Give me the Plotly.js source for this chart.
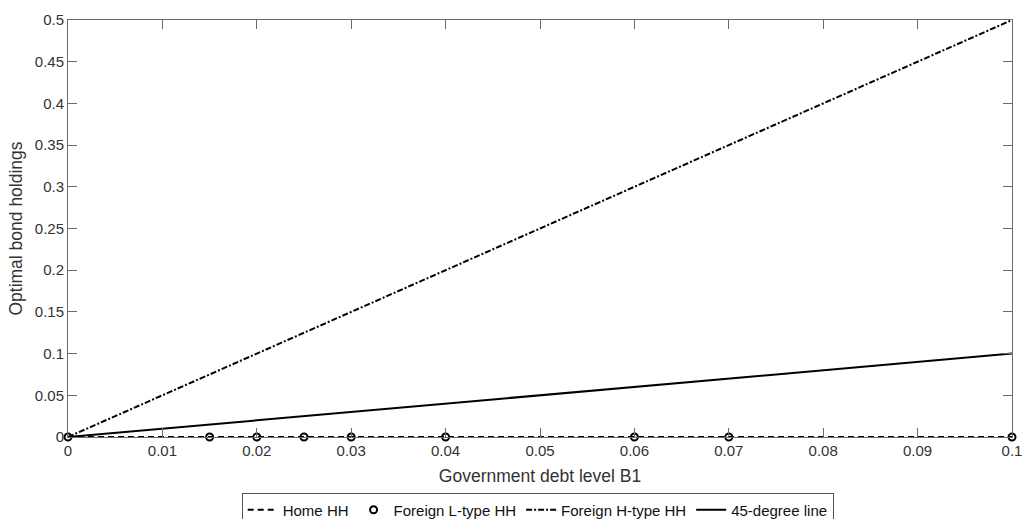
<!DOCTYPE html>
<html>
<head>
<meta charset="utf-8">
<script src="https://cdn.plot.ly/plotly-3.0.1.min.js"></script>
<style>html,body{margin:0;padding:0;background:#fff;}#chart{width:1023px;height:519px;}</style>
</head>
<body>
<div id="chart"></div>
<script>
const debtLevels = [0, 0.015, 0.02, 0.025, 0.03, 0.04, 0.06, 0.07, 0.1];
const homeHH = [0, 0, 0, 0, 0, 0, 0, 0, 0];
const foreignL = [0, 0, 0, 0, 0, 0, 0, 0, 0];
const foreignH = [0, 0.075, 0.1, 0.125, 0.15, 0.2, 0.3, 0.35, 0.5];
const line45 = [0, 0.015, 0.02, 0.025, 0.03, 0.04, 0.06, 0.07, 0.1];
const xTicks = [0, 0.01, 0.02, 0.03, 0.04, 0.05, 0.06, 0.07, 0.08, 0.09, 0.1];
const xTickText = ['0','0.01','0.02','0.03','0.04','0.05','0.06','0.07','0.08','0.09','0.1'];
const yTicks = [0, 0.05, 0.1, 0.15, 0.2, 0.25, 0.3, 0.35, 0.4, 0.45, 0.5];
const yTickText = ['0','0.05','0.1','0.15','0.2','0.25','0.3','0.35','0.4','0.45','0.5'];

const traces = [
  {x: debtLevels, y: homeHH, name: 'Home HH', mode: 'lines', cliponaxis: false, line: {color: '#000', width: 2, dash: '6px,4px'}},
  {x: debtLevels, y: foreignL, name: 'Foreign L-type HH', mode: 'markers', cliponaxis: false, marker: {symbol: 'circle-open', size: 7, color: '#000', line: {width: 2, color: '#000'}}},
  {x: debtLevels, y: foreignH, name: 'Foreign H-type HH', mode: 'lines', cliponaxis: false, line: {color: '#000', width: 2, dash: '6px,2px,2px,2px'}},
  {x: debtLevels, y: line45, name: '45-degree line', mode: 'lines', cliponaxis: false, line: {color: '#000', width: 2}}
];

const FONT = 'Liberation Sans, Arial, sans-serif';
const axisCommon = {
  showgrid: false, zeroline: false, showline: true, linecolor: '#6a6a6a', linewidth: 1,
  mirror: 'ticks', ticks: 'inside', ticklen: 9, tickcolor: '#6a6a6a', automargin: false,
  tickfont: {family: FONT, size: 15, color: '#333'}
};

const layout = {
  width: 1023, height: 519,
  margin: {l: 68, r: 11, t: 20, b: 82, autoexpand: false},
  paper_bgcolor: '#fff', plot_bgcolor: '#fff',
  font: {family: FONT, color: '#333'},
  showlegend: true,
  legend: {
    orientation: 'h', xref: 'paper', x: 0.184, xanchor: 'left',
    yref: 'container', y: 0.051, yanchor: 'top',
    bordercolor: '#555', borderwidth: 1, bgcolor: '#fff',
    font: {family: FONT, size: 15, color: '#111'}, itemwidth: 30
  },
  xaxis: Object.assign({}, axisCommon, {
    range: [0, 0.1], tickvals: xTicks, ticktext: xTickText,
    title: {text: 'Government debt level B1', font: {family: FONT, size: 17.5, color: '#333'}, standoff: 11}
  }),
  yaxis: Object.assign({}, axisCommon, {
    range: [0, 0.5], tickvals: yTicks, ticktext: yTickText,
    title: {text: 'Optimal bond holdings', font: {family: FONT, size: 17.5, color: '#333'}, standoff: 7}
  })
};

Plotly.newPlot('chart', traces, layout, {displayModeBar: false, staticPlot: true});
</script>
</body>
</html>
